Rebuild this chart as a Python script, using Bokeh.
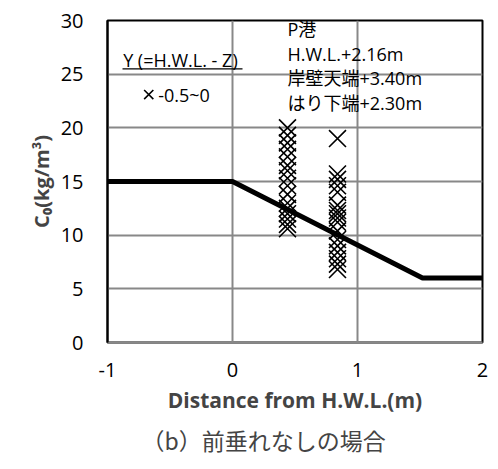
from bokeh.plotting import figure
from bokeh.models import ColumnDataSource, FixedTicker, Title
from bokeh.embed import file_html
from bokeh.resources import INLINE
from bokeh.core.properties import value

# ---- data ----
x_ticks = [-1, 0, 1, 2]
x_tick_labels = ["-1", "0", "1", "2"]
y_ticks = [0, 5, 10, 15, 20, 25, 30]

# model line C0 vs distance from H.W.L.
model_x = [-1.0, 0.0, 1.52, 2.0]
model_y = [15.0, 15.0, 6.0, 6.0]

# measured points, Y = -0.5~0
col1_x = 0.44
col1_y = [20.0, 19.3, 18.6, 18.0, 17.3, 16.5, 16.0, 15.3, 14.6, 13.8, 13.0, 12.5, 12.0, 11.5, 11.0, 10.6]
col2_x = 0.84
col2_y = [19.0, 15.7, 15.2, 14.6, 14.0, 12.8, 12.3, 12.0, 11.6, 11.2, 10.4, 9.6, 9.0, 8.4, 7.8, 7.3, 6.8]

pts_x = [col1_x] * len(col1_y) + [col2_x] * len(col2_y)
pts_y = col1_y + col2_y

info_lines = ["P港", "H.W.L.+2.16m", "岸壁天端+3.40m", "はり下端+2.30m"]
legend_title = "Y (=H.W.L. - Z)"
legend_entry = "-0.5~0"

LATIN = "Open Sans"
MIXED = "Open Sans, Noto Sans CJK JP"
CJK = "Noto Sans CJK JP"

p = figure(width=498, height=469, x_range=(-1, 2), y_range=(0, 30),
           output_backend="svg", toolbar_location=None,
           min_border_left=107, min_border_right=16, min_border_top=20, min_border_bottom=127)
p.background_fill_color = "white"
p.border_fill_color = "white"
p.outline_line_color = "black"
p.outline_line_width = 2

p.xaxis.ticker = FixedTicker(ticks=x_ticks)
p.xaxis.major_label_overrides = {t: s for t, s in zip(x_ticks, x_tick_labels)}
p.yaxis.ticker = FixedTicker(ticks=y_ticks)
for ax in (p.xaxis, p.yaxis):
    ax.major_tick_out = 0
    ax.major_tick_in = 0
    ax.minor_tick_out = 0
    ax.minor_tick_in = 0
    ax.major_label_text_font = LATIN
    ax.major_label_text_font_size = "20px"
    ax.major_label_text_color = "black"
p.xaxis.axis_line_color = "#888888"
p.xaxis.axis_line_width = 2
p.yaxis.axis_line_color = "black"
p.yaxis.axis_line_width = 2
p.xaxis.major_label_standoff = 20
p.yaxis.major_label_standoff = 24

p.xaxis.axis_label = "Distance from H.W.L.(m)"
p.xaxis.axis_label_text_font = LATIN
p.xaxis.axis_label_text_font_style = "bold"
p.xaxis.axis_label_text_font_size = "21px"
p.xaxis.axis_label_standoff = 6

p.xgrid.grid_line_color = "#888888"
p.xgrid.grid_line_width = 2
p.ygrid.grid_line_color = "#888888"
p.ygrid.grid_line_width = 2

ytitle = Title(text="C₀(kg/m³)", align="center",
               text_font=LATIN, text_font_style="bold", text_font_size="20px",
               standoff=6)
p.add_layout(ytitle, "left")

cap = Title(text="（b）前垂れなしの場合", align="left", offset=34,
            text_font=CJK, text_font_style="normal", text_font_size="23px",
            standoff=8)
p.add_layout(cap, "below")

# model line
p.line(model_x, model_y, line_color="black", line_width=5)

# points
src = ColumnDataSource(data=dict(x=pts_x, y=pts_y))
p.scatter("x", "y", source=src, marker="x", size=24, line_color="black", line_width=1.6)

# legend-like text
p.text(x=[-0.875], y=[26.35], text=[legend_title], text_font=value(LATIN),
       text_font_size="18px", text_baseline="middle", text_align="left", text_color="black")
p.segment(x0=[-0.88], y0=[25.5], x1=[0.08], y1=[25.5], line_color="black", line_width=1.2)
p.scatter(x=[-0.67], y=[23.1], marker="x", size=13, line_color="black", line_width=1.6)
p.text(x=[-0.595], y=[23.1], text=[legend_entry], text_font=value(LATIN),
       text_font_size="18px", text_baseline="middle", text_align="left", text_color="black")

# port info
info_y = [29.2, 26.85, 24.6, 22.3]
p.text(x=[0.44] * 4, y=info_y, text=info_lines, text_font=value(MIXED),
       text_font_size="18px", text_baseline="middle", text_align="left", text_color="black")

open("out.html", "w").write(file_html(p, INLINE))
